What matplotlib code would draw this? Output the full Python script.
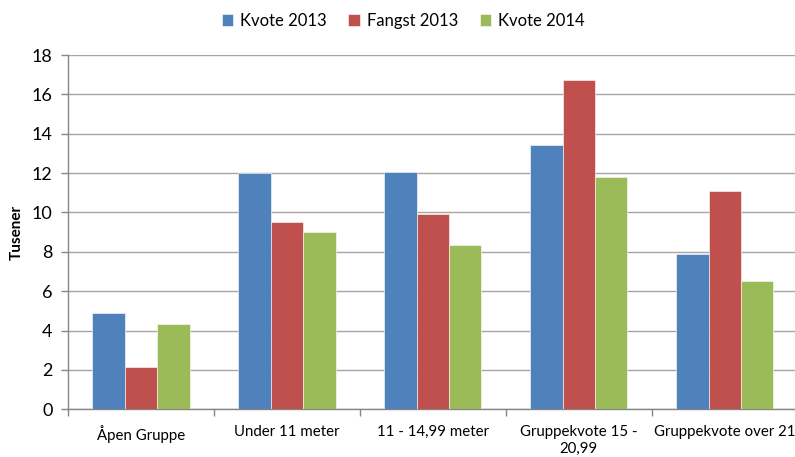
import matplotlib.pyplot as plt
import numpy as np

categories = ["Åpen Gruppe", "Under 11 meter", "11 - 14,99 meter",
              "Gruppekvote 15 -\n20,99", "Gruppekvote over 21"]
kvote_2013 = [4.9, 12.0, 12.05, 13.45, 7.88]
fangst_2013 = [2.13, 9.52, 9.93, 16.75, 11.1]
kvote_2014 = [4.32, 9.03, 8.33, 11.8, 6.5]
series = [("Kvote 2013", kvote_2013, "#4F81BD"),
          ("Fangst 2013", fangst_2013, "#C0504D"),
          ("Kvote 2014", kvote_2014, "#9BBB59")]

plt.rcParams['font.family'] = ['Lato', 'DejaVu Sans']

fig = plt.figure(figsize=(7.95, 4.57), dpi=100)
ax = fig.add_axes([0.0855, 0.1044, 0.918, 0.7752])

x = np.arange(len(categories))
w = 0.222
for i, (name, vals, col) in enumerate(series):
    ax.bar(x + (i - 1) * w, vals, w, color=col, label=name,
           edgecolor='white', linewidth=0.4, zorder=3)

ax.set_xlim(-0.5, len(categories) - 0.5)
ax.set_ylim(0, 18)
ax.set_yticks(range(0, 19, 2))
ax.yaxis.grid(True, color='#A6A6A6', linewidth=1.0, zorder=0)
ax.tick_params(axis='y', labelsize=13, length=5, color='#868686', width=1, pad=6)

# category boundaries as ticks, labels at centres
ax.set_xticks(np.arange(-0.5, len(categories), 1.0))
ax.set_xticklabels([])
ax.set_xticks(x, minor=True)
ax.set_xticklabels(categories, minor=True, fontsize=10.8, linespacing=1.3)
ax.tick_params(axis='x', which='major', length=5, color='#868686', width=1)
ax.tick_params(axis='x', which='minor', length=0, pad=11)

for s in ['top', 'right']:
    ax.spines[s].set_visible(False)
for s in ['left', 'bottom']:
    ax.spines[s].set_color('#868686')
    ax.spines[s].set_linewidth(1)

ax.set_ylabel("Tusener", fontsize=11, fontweight='bold', labelpad=6)

fig.legend(loc='upper center', bbox_to_anchor=(0.507, 1.005), ncol=3, frameon=False,
           fontsize=12, handlelength=0.7, handleheight=0.7, handletextpad=0.4,
           columnspacing=1.3)

fig.savefig("out.png", dpi=100)
